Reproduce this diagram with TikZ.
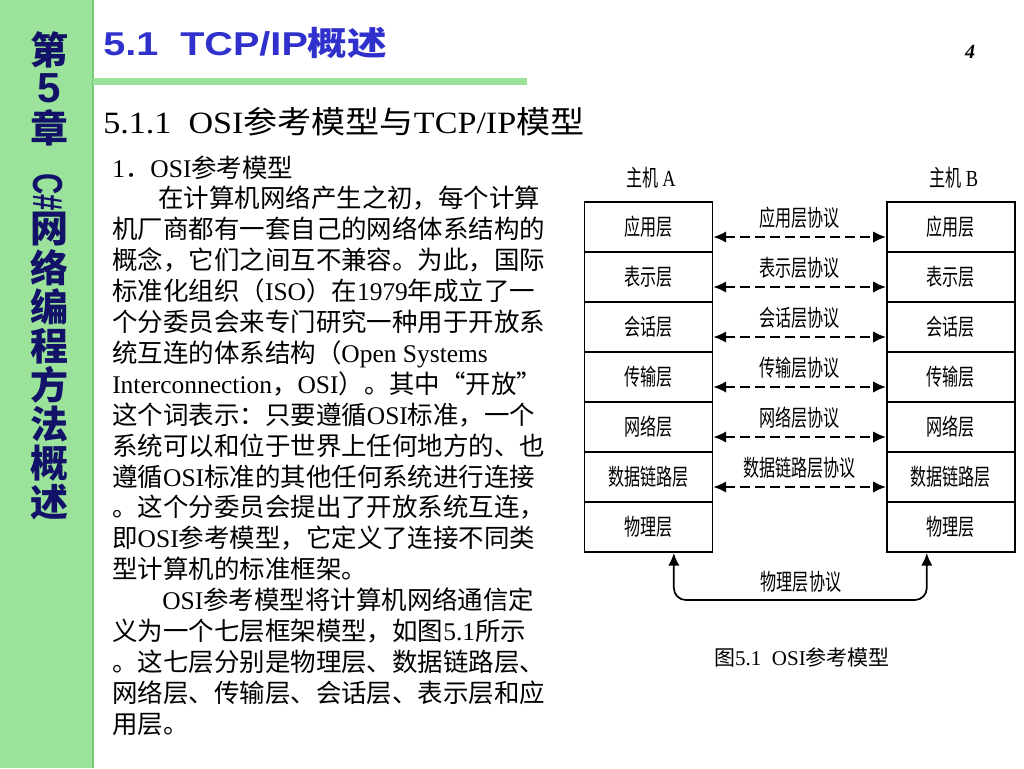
\documentclass[tikz,border=0pt]{standalone}
\usepackage{fontspec}
\usepackage{graphicx}
\usetikzlibrary{arrows.meta}
\setmainfont{Liberation Serif}
\setsansfont{Liberation Sans}
\newfontfamily\cjk{Noto Sans CJK SC}
\newfontfamily\cjkn[FakeStretch=0.7]{Noto Sans CJK SC}
\newfontfamily\cjkw[FakeStretch=1.2]{Noto Sans CJK SC}
\newfontfamily\sfw[FakeStretch=1.2]{Liberation Sans}
\newfontfamily\rmn[FakeStretch=0.8]{Liberation Serif}
\newcommand\lat[1]{{\rmfamily #1}}
\definecolor{sidegreen}{RGB}{155,226,155}
\definecolor{sideedge}{RGB}{120,200,120}
\definecolor{navy}{RGB}{18,18,105}
\definecolor{titleblue}{RGB}{48,48,204}

\tikzset{
  side/.style={text=navy, inner sep=0, font=\cjk\bfseries\fontsize{28.5pt}{29pt}\selectfont},
  layer/.style={draw, line width=1.4pt, minimum width=96pt, minimum height=37.5pt, inner sep=0, font=\cjkn\fontsize{17.25pt}{18pt}\selectfont},
  proto/.style={inner sep=0, font=\cjkn\fontsize{17.25pt}{18pt}\selectfont},
  peer/.style={line width=1.2pt, dash pattern=on 7.5pt off 3.75pt, {Latex[length=9.5pt,width=8.5pt]}-{Latex[length=9.5pt,width=8.5pt]}},
  body/.style={anchor=base west, inner sep=0, font=\cjk\fontsize{19.1pt}{23pt}\selectfont}
}

\begin{document}
\begin{tikzpicture}[x=0.75pt, y=-0.75pt]
\useasboundingbox (0,0) rectangle (1024,768);
\fill[white] (0,0) rectangle (1024,768);

% side bar
\fill[sidegreen] (0,0) rectangle (93,768);
\draw[sideedge, line width=1.5pt] (93,0) -- (93,768);
\node[side] (s1) at (49,50) {第};
\node[side, font=\sffamily\bfseries\fontsize{31.5pt}{32pt}\selectfont] (s2) at (49,88) {5};
\node[side] (s3) at (49,128) {章};
\node[side, rotate=-90, font=\sffamily\bfseries\fontsize{31.5pt}{32pt}\selectfont] (s4) at (48,192) {\scalebox{0.7}[1]{C\#}};
\foreach \c [count=\i] in {网,络,编,程,方,法,概,述}
  \node[side] (w\i) at (49,190+39*\i) {\c};

% heading
\node[anchor=base west, inner sep=0, text=titleblue, font=\sfw\bfseries\fontsize{24.75pt}{25pt}\selectfont] (title) at (103,55) {5.1\ \ TCP/IP{\cjkw\bfseries 概述}};
\draw[sidegreen, line width=5.25pt] (93,81) -- (527,81);
\node[inner sep=0, font=\rmfamily\bfseries\itshape\fontsize{15pt}{15pt}\selectfont] (page) at (970,52) {4};
\node[anchor=base west, inner sep=0, font=\rmfamily\fontsize{23.25pt}{24pt}\selectfont] (sub) at (103,133) {\scalebox{1.1}[1]{5.1.1\ \ OSI{\cjk 参考模型与}TCP/IP{\cjk 模型}}};

% text
\foreach \txt [count=\i] in {
  \lat{1}．\lat{OSI}参考模型,
  \hspace*{34.5pt}在计算机网络产生之初，每个计算,
  机厂商都有一套自己的网络体系结构的,
  概念，它们之间互不兼容。为此，国际,
  标准化组织（\lat{ISO}）在\lat{1979}年成立了一,
  个分委员会来专门研究一种用于开放系,
  统互连的体系结构（\lat{Open Systems},
  \lat{Interconnection}，\lat{OSI}）。其中“开放”,
  这个词表示：只要遵循\lat{OSI}标准，一个,
  系统可以和位于世界上任何地方的、也,
  遵循\lat{OSI}标准的其他任何系统进行连接,
  。这个分委员会提出了开放系统互连，,
  即\lat{OSI}参考模型，它定义了连接不同类,
  型计算机的标准框架。,
  \hspace*{37.5pt}\lat{OSI}参考模型将计算机网络通信定,
  义为一个七层框架模型，如图\lat{5.1}所示,
  。这七层分别是物理层、数据链路层、,
  网络层、传输层、会话层、表示层和应,
  用层。}
  \node[body] (t\i) at (112,146.1+30.9*\i) {\txt};

% OSI model
\node[proto] (hA) at (651,178) {主机\,{\rmn A}};
\node[proto] (hB) at (954,178) {主机\,{\rmn B}};
\foreach \n [count=\i] in {应用层,表示层,会话层,传输层,网络层,数据链路层,物理层} {
  \node[layer] (A\i) at (648.5,177+50*\i) {\n};
  \node[layer] (B\i) at (950.8,177+50*\i) {\n};
}
\foreach \p [count=\i] in {应用层协议,表示层协议,会话层协议,传输层协议,网络层协议,数据链路层协议}
  \draw[peer] ([yshift=-7.5pt]A\i.east) -- node[proto, yshift=14.25pt] (p\i) {\p} ([yshift=-7.5pt]B\i.west);
\coordinate (pbot) at (800,600);
\draw[line width=1.3pt, rounded corners=9pt, {Latex[length=9.5pt,width=8.5pt]}-{Latex[length=9.5pt,width=8.5pt]}] ([xshift=19pt]A7.south) |- (pbot) -| ([xshift=-18pt]B7.south);
\node[proto] (p7) at (801,582) {物理层协议};
\node[anchor=base, inner sep=0, font=\rmfamily\fontsize{15.75pt}{16pt}\selectfont] (cap) at (802,665) {{\cjk 图}5.1\ \ OSI{\cjk 参考模型}};
\end{tikzpicture}
\end{document}
